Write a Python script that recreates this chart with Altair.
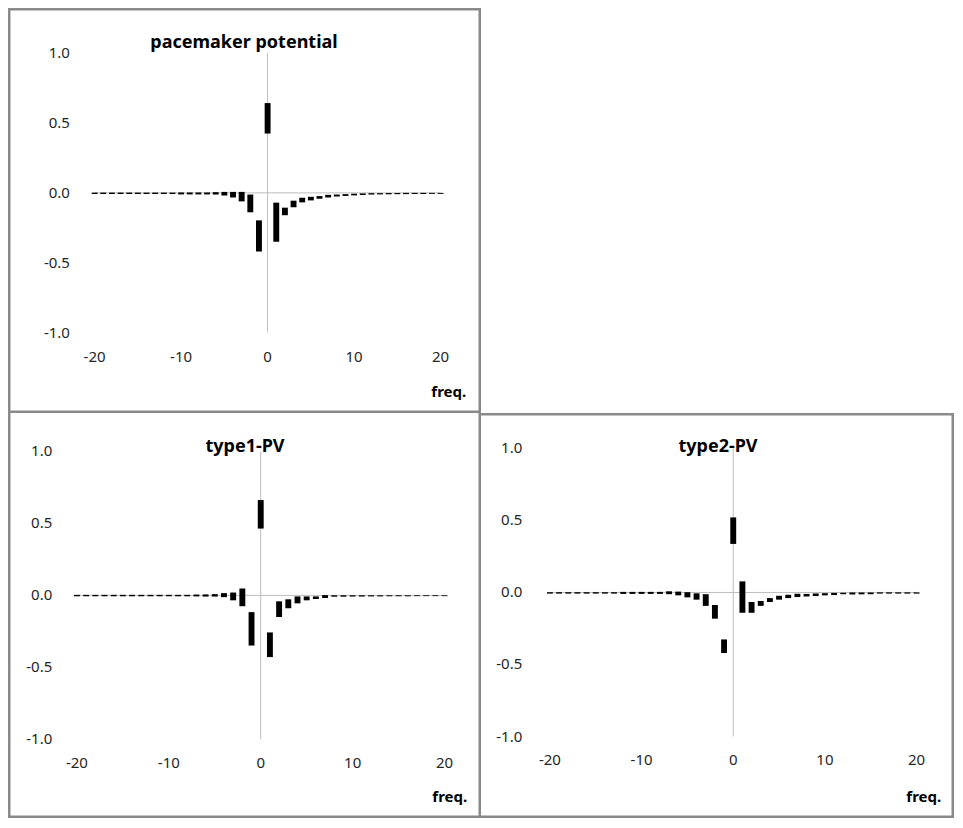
import altair as alt
import pandas as pd

# ---------------- data ----------------
FREQ = list(range(-20, 21))

# pacemaker potential: low / high ends of each floating bar
PM_LO = [-0.008] * 10 + [-0.011, -0.011, -0.011, -0.011,
         -0.012, -0.019, -0.033, -0.061, -0.139, -0.42,
         0.425,
         -0.35, -0.160, -0.103, -0.068, -0.054, -0.042, -0.033, -0.026, -0.022, -0.018,
         -0.015, -0.012, -0.011, -0.010, -0.009, -0.009, -0.008, -0.008, -0.007, -0.007]
PM_HI = [0.002] * 10 + [0.003, 0.003, 0.003, 0.003,
         0.005, 0.007, 0.007, 0.007, -0.012, -0.197,
         0.643,
         -0.070, -0.106, -0.056, -0.035, -0.028, -0.023, -0.014, -0.012, -0.009, -0.006,
         -0.004, -0.002, -0.002, -0.001, -0.001, 0.0, 0.0, 0.0, 0.0, 0.0]

# type1-PV
T1_LO = [-0.006] * 13 + [-0.007, -0.008, -0.008, -0.012, -0.034, -0.075, -0.348,
         0.464,
         -0.428, -0.150, -0.089, -0.055, -0.034, -0.025, -0.018,
         -0.009, -0.009, -0.008, -0.008, -0.007, -0.007, -0.006, -0.006, -0.006, -0.005, -0.005, -0.005, -0.005]
T1_HI = [0.004] * 13 + [0.006, 0.007, 0.009, 0.016, 0.020, 0.048, -0.116,
         0.662,
         -0.257, -0.041, -0.027, -0.007, -0.007, -0.007, 0.002,
         0.001, 0.001, 0.001, 0.001, 0.001, 0.001, 0.001, 0.001, 0.001, 0.001, 0.001, 0.001, 0.001]

# type2-PV
T2_LO = [-0.008] * 8 + [-0.010] * 5 + [-0.012, -0.020, -0.034, -0.050, -0.093, -0.182, -0.42,
         0.337,
         -0.141, -0.141, -0.093, -0.066, -0.050, -0.039, -0.032,
         -0.028, -0.025, -0.020, -0.018, -0.012, -0.014, -0.013, -0.012, -0.008, -0.008, -0.008, -0.008, -0.008]
T2_HI = [0.002] * 8 + [0.004] * 5 + [0.008, 0.006, 0.002, -0.006, -0.012, -0.087, -0.326,
         0.521,
         0.077, -0.066, -0.059, -0.039, -0.023, -0.016, -0.009,
         -0.010, -0.007, -0.005, -0.003, -0.002, 0.0, 0.0, 0.0, 0.001, 0.001, 0.001, 0.001, 0.001]

Y_TICKS = [1.0, 0.5, 0.0, -0.5, -1.0]
Y_LABELS = ["1.0", "0.5", "0.0", "-0.5", "-1.0"]
X_TICKS = [-20, -10, 0, 10, 20]
X_LABELS = ["-20", "-10", "0", "10", "20"]

TITLES = ["pacemaker potential", "type1-PV", "type2-PV"]
X_TITLE = "freq."

# ---------------- layout ----------------
S = 473 / 481.0
PW, PH = 473, 405
FONT = "Noto Sans"
TXT = "#262626"
AXC = "#bdbdbd"
FRAME = "#8a8a8a"
FW = 2.5


def frame_strips(sides):
    one = pd.DataFrame({"k": [0]})
    out = []
    for s in sides:
        if s == "left":
            enc = dict(x=alt.value(0), x2=alt.value(FW), y=alt.value(0), y2=alt.value(PH))
        elif s == "right":
            enc = dict(x=alt.value(PW - FW), x2=alt.value(PW), y=alt.value(0), y2=alt.value(PH))
        elif s == "top":
            enc = dict(x=alt.value(0), x2=alt.value(PW), y=alt.value(0), y2=alt.value(FW))
        else:
            enc = dict(x=alt.value(0), x2=alt.value(PW), y=alt.value(PH - FW), y2=alt.value(PH))
        out.append(alt.Chart(one).mark_rect(color=FRAME, strokeWidth=0).encode(**enc))
    return out


def panel(lo, hi, title, g, sides):
    xs = alt.Scale(domain=[-20, 20], range=[g["x0"] * S, g["x1"] * S], nice=False, zero=False)
    ys = alt.Scale(domain=[-1, 1], range=[g["yb"] * S, g["yt"] * S], nice=False, zero=False)

    bars_df = pd.DataFrame({"freq": FREQ, "lo": lo, "hi": hi})
    vline_df = pd.DataFrame({"x": [0], "y": [-1.0], "y2": [1.0]})
    hline_df = pd.DataFrame({"x": [-20], "x2": [20], "y": [0.0]})
    ytk = pd.DataFrame({"v": Y_TICKS, "t": Y_LABELS})
    xtk = pd.DataFrame({"v": X_TICKS, "t": X_LABELS})

    vline = alt.Chart(vline_df).mark_rule(color=AXC, strokeWidth=1).encode(
        x=alt.X("x:Q", scale=xs, axis=None),
        y=alt.Y("y:Q", scale=ys, axis=None),
        y2="y2:Q",
    )
    hline = alt.Chart(hline_df).mark_rule(color=AXC, strokeWidth=1).encode(
        x=alt.X("x:Q", scale=xs, axis=None),
        x2="x2:Q",
        y=alt.Y("y:Q", scale=ys, axis=None),
    )
    bars = alt.Chart(bars_df).mark_bar(color="black", size=6 * S).encode(
        x=alt.X("freq:Q", scale=xs, axis=None),
        y=alt.Y("lo:Q", scale=ys, axis=None),
        y2="hi:Q",
    )
    ylab = alt.Chart(ytk).mark_text(
        align="right", baseline="middle", font=FONT, fontSize=15, color=TXT
    ).encode(
        x=alt.value(g["ylx"] * S),
        y=alt.Y("v:Q", scale=ys, axis=None),
        text="t:N",
    )
    xlab = alt.Chart(xtk).mark_text(
        align="center", baseline="middle", font=FONT, fontSize=15, color=TXT
    ).encode(
        x=alt.X("v:Q", scale=xs, axis=None),
        y=alt.value(g["xly"] * S),
        text="t:N",
    )
    xtitle = alt.Chart(pd.DataFrame({"t": [X_TITLE]})).mark_text(
        align="right", baseline="middle", font=FONT, fontSize=15, fontWeight="bold", color="black"
    ).encode(
        x=alt.value(g["fx"] * S),
        y=alt.value(g["fy"] * S),
        text="t:N",
    )
    ttl = alt.Chart(pd.DataFrame({"t": [title]})).mark_text(
        align="center", baseline="middle", font=FONT, fontSize=18, fontWeight="bold", color="black"
    ).encode(
        x=alt.value(g["tx"] * S),
        y=alt.value(g["ty"] * S),
        text="t:N",
    )
    layers = [vline, hline, bars, ylab, xlab, xtitle, ttl] + frame_strips(sides)
    return alt.layer(*layers).properties(width=PW, height=PH)


G1 = dict(x0=83, x1=445, yb=330, yt=46, ylx=63, xly=355, fx=466, fy=391, tx=240, ty=36)
G2 = dict(x0=65, x1=449, yb=332, yt=39, ylx=45, xly=356, fx=467, fy=390, tx=241, ty=35)
G3 = dict(x0=65, x1=448, yb=329, yt=36, ylx=42, xly=353, fx=468, fy=390, tx=241, ty=35)

p1 = panel(PM_LO, PM_HI, TITLES[0], G1, ["left", "top", "right", "bottom"])
p2 = panel(T1_LO, T1_HI, TITLES[1], G2, ["left", "right", "bottom"])
p3 = panel(T2_LO, T2_HI, TITLES[2], G3, ["top", "right", "bottom"])

chart = alt.vconcat(
    p1,
    alt.hconcat(p2, p3, spacing=0),
    spacing=0,
).properties(padding=0, background="white").configure_view(
    strokeWidth=0, stroke="transparent"
)

chart.save("out.html", embed_options={"renderer": "svg", "actions": False})
